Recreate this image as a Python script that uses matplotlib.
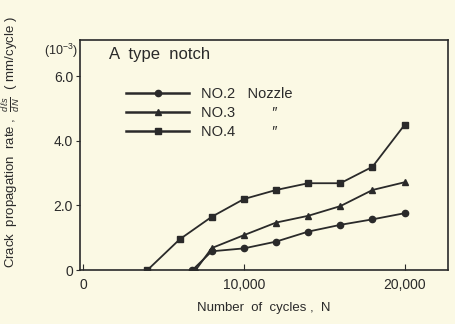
import matplotlib
matplotlib.use("Agg")
import matplotlib.pyplot as plt
from matplotlib.lines import Line2D

plt.rcParams['font.family'] = ['Liberation Sans', 'DejaVu Sans']
plt.rcParams['mathtext.fontset'] = 'custom'
plt.rcParams['mathtext.rm'] = 'Liberation Sans'
plt.rcParams['mathtext.it'] = 'Liberation Sans:italic'

# Data (crack propagation rate, 10^-3 mm/cycle)
no2_N = [6800, 8000, 10000, 12000, 14000, 16000, 18000, 20000]
no2_rate = [0.0, 0.58, 0.67, 0.88, 1.19, 1.40, 1.57, 1.76]
no3_N = [7000, 8000, 10000, 12000, 14000, 16000, 18000, 20000]
no3_rate = [0.0, 0.68, 1.08, 1.47, 1.68, 1.98, 2.48, 2.72]
no4_N = [4000, 6000, 8000, 10000, 12000, 14000, 16000, 18000, 20000]
no4_rate = [0.0, 0.95, 1.65, 2.2, 2.48, 2.69, 2.69, 3.2, 4.5]

x_ticks = [0, 10000, 20000]
x_ticklabels = ['0', '10,000', '20,000']
y_ticks = [0, 2.0, 4.0, 6.0]
y_ticklabels = ['0', '2.0', '4.0', '6.0']

bg = '#fbf9e4'
ink = '#2a2a2a'

fig = plt.figure(figsize=(4.55, 3.24), dpi=100, facecolor=bg)
ax = fig.add_axes([80/455, 1 - 270/324, (448-80)/455, (270-40)/324], facecolor=bg)

ax.plot(no2_N, no2_rate, color=ink, lw=1.3, marker='o', ms=4.5, mfc=ink, mec=ink)
ax.plot(no3_N, no3_rate, color=ink, lw=1.3, marker='^', ms=5, mfc=ink, mec=ink)
ax.plot(no4_N, no4_rate, color=ink, lw=1.3, marker='s', ms=4.5, mfc=ink, mec=ink)

ax.set_xlim(-200, 22700)
ax.set_ylim(0, 7.13)
ax.set_xticks(x_ticks)
ax.set_xticklabels(x_ticklabels)
ax.set_yticks(y_ticks)
ax.set_yticklabels(y_ticklabels)
ax.tick_params(axis='x', direction='in', length=4, width=0.8, colors=ink, labelsize=10, pad=6)
ax.tick_params(axis='y', direction='out', length=3, width=0.8, colors=ink, labelsize=10, pad=2)
for s in ax.spines.values():
    s.set_color(ink)
    s.set_linewidth(1.2)

ax.set_xlabel('Number  of  cycles ,  N', fontsize=9.5, color=ink, labelpad=7)
ax.set_ylabel(r'Crack  propagation  rate ,  $\frac{d\ell s}{dN}$  ( mm/cycle )',
              fontsize=9.5, color=ink)
ax.yaxis.set_label_coords(-0.155, 0.555)
ax.text(-0.005, 0.99, r'(10$^{-3}$)', transform=ax.transAxes, ha='right', va='top',
        fontsize=9, color=ink)

ax.text(0.08, 0.935, 'A  type  notch', transform=ax.transAxes, fontsize=12, color=ink,
        va='center', ha='left')

handles = [Line2D([], [], color=ink, lw=1.8, marker='o', ms=4.5),
           Line2D([], [], color=ink, lw=1.8, marker='^', ms=5),
           Line2D([], [], color=ink, lw=1.8, marker='s', ms=4.5)]
labels = ['NO.2   Nozzle', 'NO.3         \u2033', 'NO.4         \u2033']
leg = ax.legend(handles, labels, loc='upper left', bbox_to_anchor=(0.11, 0.819),
                frameon=False, fontsize=10.5, handlelength=4.3, handletextpad=0.8,
                labelspacing=0.33, borderaxespad=0)
for t in leg.get_texts():
    t.set_color(ink)

fig.savefig('out.png', dpi=100, facecolor=bg)
